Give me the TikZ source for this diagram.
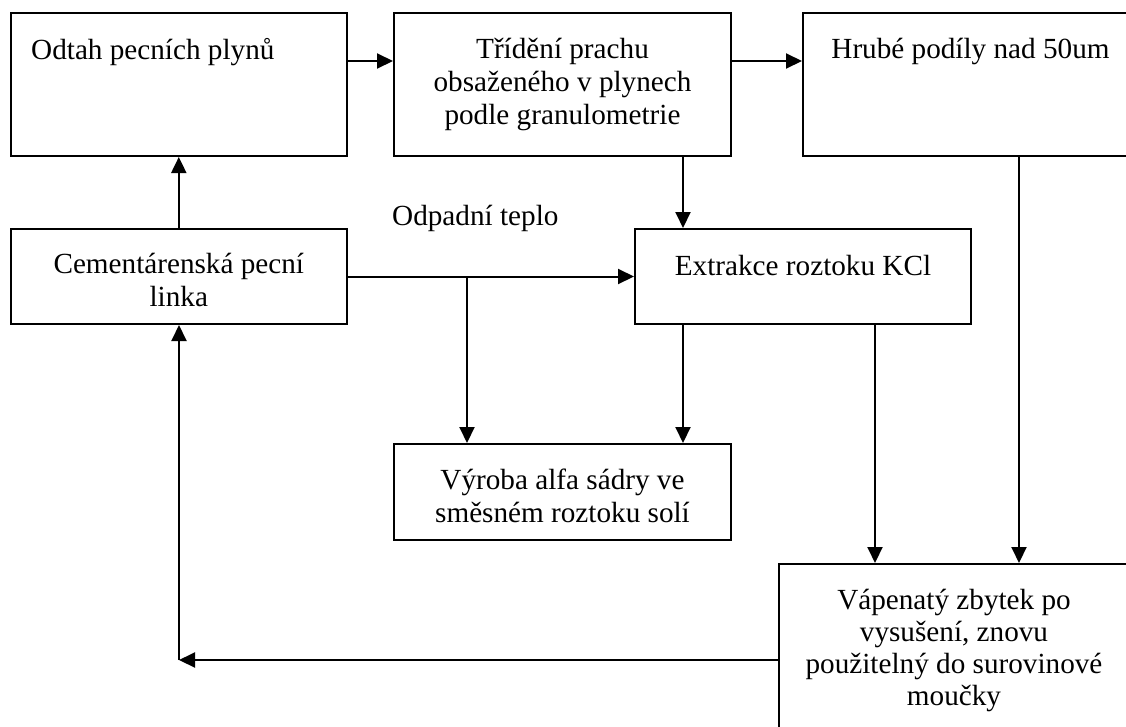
\documentclass[tikz,border=0pt]{standalone}
\usepackage{fontspec}
\setmainfont{Liberation Serif}
\usetikzlibrary{arrows.meta}
\begin{document}
\begin{tikzpicture}[x=1pt,y=-1pt,
  box/.style={draw, line width=2pt, inner sep=0pt},
  txt/.style={inner sep=0pt, align=center, font=\fontsize{29.2}{33.3}\selectfont},
  arr/.style={line width=2pt, -{Triangle[length=16pt,width=15pt]}}]
\path[use as bounding box, clip] (0,0) rectangle (1126,726);
\fill[white] (0,0) rectangle (1126,726);
% boxes
\node[box, minimum width=336pt, minimum height=142.7pt] (b1) at (178.8,84.65) {};
\node[box, minimum width=337pt, minimum height=142.7pt] (b2) at (562.5,84.65) {};
\node[box, minimum width=335pt, minimum height=142.7pt] (b3) at (970.5,84.65) {};
\node[box, minimum width=336.3pt, minimum height=95pt] (b4) at (178.8,276.5) {};
\node[box, minimum width=336pt, minimum height=95pt] (b5) at (803,276.5) {};
\node[box, minimum width=337pt, minimum height=96pt] (b6) at (562.5,492) {};
\node[box, minimum width=350pt, minimum height=196pt] (b7) at (954,662) {};
% texts
\node[txt, anchor=north west] (t1) at (31,35.7) {\strut Odtah pecních plynů};
\node[txt, anchor=north] (t2) at (562.5,34.7) {\strut Třídění prachu\\\strut obsaženého v plynech\\\strut podle granulometrie};
\node[txt, anchor=north] (t3) at (970.5,34.7) {\strut Hrubé podíly nad 50um};
\node[txt, anchor=north] (t4) at (178.8,249.7) {\strut Cementárenská pecní\\\strut linka};
\node[txt, anchor=north] (t5) at (803,251.7) {\strut Extrakce roztoku KCl};
\node[txt, anchor=north] (t6) at (562.5,465.7) {\strut Výroba alfa sádry ve\\\strut směsném roztoku solí};
\node[txt, anchor=north, font=\fontsize{29.2}{32.2}\selectfont] (t7) at (954,586.5) {\strut Vápenatý zbytek po\\\strut vysušení, znovu\\\strut použitelný do surovinové\\\strut moučky};
\node[txt, anchor=north west] (t8) at (392,201.7) {\strut Odpadní teplo};
% helper coordinates
\coordinate (r1) at (0,61);
\coordinate (c2) at (683,0);
\coordinate (c3) at (875,0);
\coordinate (c4) at (1019,0);
\coordinate (j) at (467,276.5);
\coordinate (r5) at (0,660);
\coordinate (k) at (179,660);
% connectors
\draw[arr] (b1.east |- r1) -- (b2.west |- r1);
\draw[arr] (b2.east |- r1) -- (b3.west |- r1);
\draw[arr] (b4.north) -- (b1.south);
\draw[arr] (b2.south -| c2) -- (b5.north -| c2);
\draw[arr] (b4.east) -- (b5.west);
\draw[arr] (j) -- (b6.north -| j);
\draw[arr] (b5.south -| c2) -- (b6.north -| c2);
\draw[arr] (b5.south -| c3) -- (b7.north -| c3);
\draw[arr] (b3.south -| c4) -- (b7.north -| c4);
\draw[arr] (b7.west |- r5) -- (k);
\draw[arr] (k) -- (b4.south -| k);
\end{tikzpicture}
\end{document}
